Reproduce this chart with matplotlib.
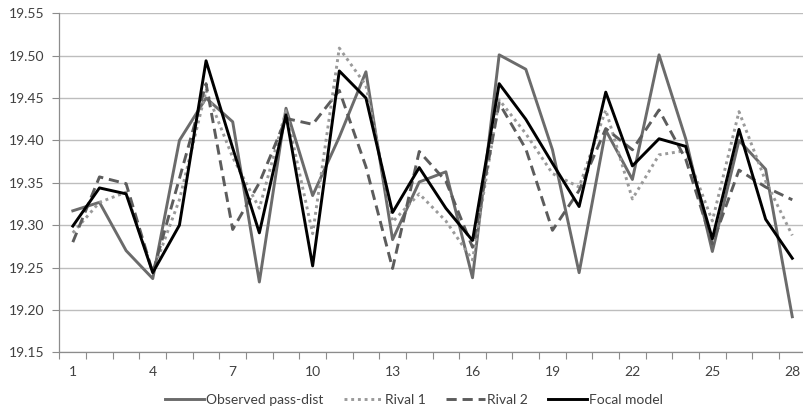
import matplotlib

matplotlib.use("Agg")
import matplotlib.pyplot as plt
from matplotlib.ticker import FixedLocator, MultipleLocator

plt.rcParams["font.family"] = ["Lato", "DejaVu Sans"]

periods = list(range(1, 29))
tick_labels = [str(p) for p in range(1, 29, 3)]

observed = [19.317, 19.327, 19.270, 19.237, 19.400, 19.450, 19.422, 19.233, 19.438, 19.335,
            19.404, 19.481, 19.283, 19.351, 19.363, 19.238, 19.501, 19.484, 19.389, 19.244,
            19.412, 19.354, 19.501, 19.402, 19.269, 19.400, 19.366, 19.192]
rival_1 = [19.291, 19.327, 19.339, 19.245, 19.330, 19.459, 19.380, 19.320, 19.435, 19.290,
           19.509, 19.465, 19.304, 19.337, 19.305, 19.259, 19.448, 19.408, 19.361, 19.345,
           19.436, 19.331, 19.383, 19.388, 19.305, 19.434, 19.352, 19.288]
rival_2 = [19.280, 19.357, 19.349, 19.244, 19.355, 19.467, 19.295, 19.350, 19.426, 19.419,
           19.459, 19.369, 19.249, 19.387, 19.352, 19.274, 19.444, 19.390, 19.294, 19.341,
           19.414, 19.389, 19.436, 19.378, 19.278, 19.365, 19.345, 19.330]
focal = [19.299, 19.344, 19.337, 19.244, 19.300, 19.494, 19.391, 19.291, 19.430, 19.252,
         19.482, 19.450, 19.315, 19.368, 19.320, 19.282, 19.467, 19.425, 19.373, 19.322,
         19.457, 19.370, 19.402, 19.393, 19.284, 19.413, 19.307, 19.261]

fig = plt.figure(figsize=(8.04, 4.16), dpi=100)
ax = fig.add_axes([0.074, 0.153, 0.928, 0.815])

ax.plot(periods, observed, color="#6b6b6b", linewidth=2.1, label="Observed pass-dist")
ax.plot(periods, rival_1, color="#9a9a9a", linewidth=2.1, linestyle=(0, (1, 1.3)), label="Rival 1")
ax.plot(periods, rival_2, color="#5c5c5c", linewidth=2.1, linestyle=(0, (3.5, 2)), label="Rival 2")
ax.plot(periods, focal, color="#000000", linewidth=2.1, label="Focal model")

ax.set_xlim(0.5, 28.5)
ax.set_ylim(19.15, 19.55)
ax.yaxis.set_major_locator(MultipleLocator(0.05))
ax.yaxis.set_major_formatter(lambda v, _pos: f"{v:.2f}")
ax.grid(True, axis="y", color="#bdbdbd", linewidth=1.0)
ax.set_axisbelow(True)

ax.xaxis.set_major_locator(FixedLocator(list(range(1, 29, 3))))
ax.set_xticklabels(tick_labels)
ax.xaxis.set_minor_locator(FixedLocator([p + 0.5 for p in range(0, 29)]))
ax.tick_params(axis="x", which="major", length=0, pad=10, labelsize=10, labelcolor="#404040")
ax.tick_params(axis="x", which="minor", length=5, color="#8c8c8c", width=0.8)
ax.tick_params(axis="y", which="major", length=5, color="#8c8c8c", width=0.8, labelsize=10,
               labelcolor="#404040", pad=6)

for side in ("top", "right"):
    ax.spines[side].set_visible(False)
for side in ("left", "bottom"):
    ax.spines[side].set_color("#8c8c8c")
    ax.spines[side].set_linewidth(0.9)

fig.legend(loc="lower center", bbox_to_anchor=(0.515, -0.005), ncol=4, frameon=False,
           fontsize=10, handlelength=2.8, handletextpad=0.12, columnspacing=1.5,
           labelcolor="#404040")

fig.savefig("out.png", dpi=100)
plt.close(fig)
